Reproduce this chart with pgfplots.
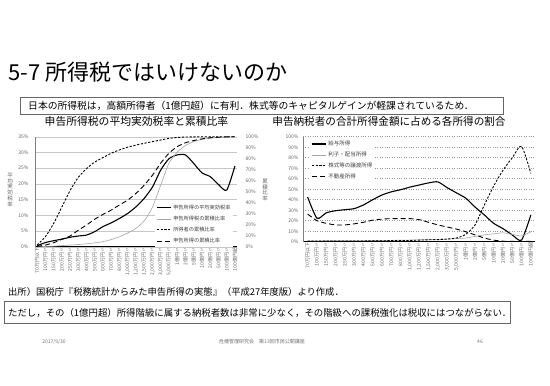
\documentclass[border=0pt]{standalone}
\usepackage{fontspec}
\setmainfont{Noto Sans CJK JP}
\usepackage{pgfplots}
\pgfplotsset{compat=1.18}

\pgfplotsset{
  base/.style={
    scale only axis,
    /pgf/number format/assume math mode=true,
    xtick={0,1,...,24},
    xticklabels={{70万円以下},{100万円〃},{150万円〃},{200万円〃},{250万円〃},{300万円〃},{400万円〃},{500万円〃},{600万円〃},{700万円〃},{800万円〃},{1,000万円〃},{1,200万円〃},{1,500万円〃},{2,000万円〃},{3,000万円〃},{5,000万円〃},{1億円〃},{2億円〃},{5億円〃},{10億円〃},{20億円〃},{50億円〃},{100億円〃},{100億円超}},
    x tick label style={rotate=90, anchor=east, font=\fontsize{5}{5.5}\selectfont, text=black!60, inner sep=1pt},
    y tick label style={font=\fontsize{5}{6}\selectfont, text=black!60},
    major tick length=0pt,
    yticklabel={\pgfmathprintnumber{\tick}\%},
    legend image code/.code={\draw[##1] (0pt,0pt) -- (14pt,0pt);},
  },
  sdash/.style={black, line width=0.9pt, dash pattern=on 2.2pt off 1.6pt},
  ldash/.style={black, line width=0.9pt, dash pattern=on 5pt off 3pt},
  thinl/.style={black!35, line width=0.6pt},
  solidl/.style={black, line width=1.1pt},
}

\begin{document}
\begin{tikzpicture}
\path[use as bounding box, fill=white] (0pt,0pt) rectangle (550pt,-386pt);

% Title
\node[anchor=west, inner sep=0pt, font=\fontsize{22}{24}\selectfont] at (8pt,-72pt) {5-7 所得税ではいけないのか};

% Box 1
\draw[black!60, line width=0.8pt] (20pt,-97.7pt) rectangle (503pt,-114pt);
\node[anchor=west, inner sep=0pt, font=\fontsize{9.8}{11}\selectfont] at (28pt,-106pt) {日本の所得税は，高額所得者（1億円超）に有利．株式等のキャピタルゲインが軽課されているため．};

% Subtitles
\node[inner sep=0pt, font=\fontsize{10.8}{12}\selectfont] at (136.5pt,-121pt) {申告所得税の平均実効税率と累積比率};
\node[inner sep=0pt, font=\fontsize{10.6}{12}\selectfont] at (389pt,-121pt) {申告納税者の合計所得金額に占める各所得の割合};

% Left chart, primary axis
\begin{axis}[base, at={(35pt,-246.7pt)}, anchor=south west, width=202pt, height=110pt,
  xmin=-0.25, xmax=24.25, ymin=0, ymax=35, ytick={0,5,...,35},
  axis x line*=bottom, axis y line*=left,
  x axis line style={-, line width=1.1pt, black},
  y axis line style={-, line width=0.4pt, black!50},
  ymajorgrids, grid style={black!22, line width=0.4pt},
  y tick label style={xshift=-3pt}]
\addplot[solidl, smooth, tension=0.4] coordinates {
(0,0.3) (1,1.3) (2,1.9) (3,2.4) (4,3.0) (5,3.4) (6,3.7) (7,4.8) (8,6.4) (9,7.6)
(10,9.0) (11,10.6) (12,12.7) (13,15.4) (14,19.0) (15,24.4) (16,28.0) (17,29.2)
(18,29.2) (19,26.5) (20,23.5) (21,22.3) (22,19.8) (23,18.0) (24,25.7)};
\end{axis}

% Left chart, secondary axis
\begin{axis}[base, at={(35pt,-246.7pt)}, anchor=south west, width=202pt, height=110pt,
  xmin=-0.25, xmax=24.25, ymin=0, ymax=100, ytick={0,10,...,100},
  axis x line=none, axis y line*=right, y axis line style={draw=none},
  y tick label style={xshift=5pt},
  legend cell align=left,
  legend style={font=\fontsize{5.2}{6}\selectfont, draw=none, fill=white, at={(0.594,0.41)}, anchor=north west, row sep=1.2pt, inner sep=1pt, text=black!75}]
\addlegendimage{solidl}
\addlegendentry{申告所得の平均実効税率}
\addplot[thinl, smooth, tension=0.4] coordinates {
(0,0) (1,0.2) (2,0.5) (3,1.0) (4,1.5) (5,2.0) (6,2.6) (7,3.5) (8,4.6) (9,6.5)
(10,9.0) (11,12.5) (12,16.7) (13,23.5) (14,36) (15,56) (16,76) (17,86) (18,92)
(19,95.5) (20,97.5) (21,98.7) (22,99.4) (23,99.7) (24,100)};
\addlegendentry{申告所得税の累積比率}
\addplot[sdash, smooth, tension=0.4] coordinates {
(0,1.5) (1,9) (2,21) (3,36) (4,51) (5,63) (6,71) (7,77) (8,81) (9,85) (10,88)
(11,90.5) (12,92.4) (13,94) (14,95.5) (15,97) (16,98.5) (17,99.3) (18,99.7)
(19,99.9) (20,99.95) (21,100) (22,100) (23,100) (24,100)};
\addlegendentry{所得者の累積比率}
\addplot[ldash, smooth, tension=0.4] coordinates {
(0,0.3) (1,1.5) (2,3.6) (3,6.7) (4,9.7) (5,15) (6,19.7) (7,25) (8,29.4) (9,33.3)
(10,38) (11,42.4) (12,48.5) (13,56) (14,65) (15,76) (16,85) (17,91) (18,94.5)
(19,96.5) (20,98) (21,99) (22,99.5) (23,99.8) (24,100)};
\addlegendentry{申告所得の累積比率}
\end{axis}

% Left chart vertical axis titles
\node[inner sep=0pt, align=center, font=\fontsize{5.5}{5.9}\selectfont, text=black!60] at (10pt,-190pt) {平\\均\\実\\効\\税\\率};
\node[inner sep=0pt, align=center, font=\fontsize{5.5}{5.9}\selectfont, text=black!60] at (265pt,-190pt) {累\\積\\比\\率};

% Right chart
\begin{axis}[base, at={(303pt,-241.7pt)}, anchor=south west, width=232.5pt, height=105pt,
  xmin=-0.5, xmax=24.5, ymin=0, ymax=100, ytick={0,10,...,100},
  axis x line*=bottom, axis y line*=left,
  x axis line style={-, line width=1.1pt, black},
  y axis line style={-, line width=0.4pt, black!50},
  ymajorgrids, grid style={black!40, dotted, line width=0.5pt},
  y tick label style={xshift=-1pt},
  legend cell align=left,
  legend style={font=\fontsize{5.5}{6}\selectfont, draw=none, fill=white, at={(0.03,0.99)}, anchor=north west, row sep=0.8pt, inner sep=1pt, text=black!75}]
\addplot[solidl, smooth, tension=0.4] coordinates {
(0,42.5) (1,22.3) (2,27.5) (3,29.5) (4,30.5) (5,31.5) (6,35) (7,40) (8,44.5) (9,47.5)
(10,49.5) (11,52) (12,54) (13,56) (14,57) (15,51.5) (16,46.5) (17,41.5) (18,33)
(19,25.5) (20,17.5) (21,12.5) (22,6.5) (23,1.5) (24,25.5)};
\addlegendentry{給与所得}
\addplot[thinl, smooth, tension=0.4] coordinates {
(0,0.8) (1,0.8) (2,0.9) (3,0.9) (4,1.0) (5,1.0) (6,1.0) (7,1.1) (8,1.2) (9,1.3)
(10,1.4) (11,1.5) (12,1.8) (13,2.0) (14,2.2) (15,2.5) (16,3.0) (17,3.5) (18,5.0)
(19,6.5) (20,7.5) (21,8.5) (22,7.0) (23,5.5) (24,9.5)};
\addlegendentry{利子・配当所得}
\addplot[sdash, smooth, tension=0.4] coordinates {
(0,0.5) (1,0.5) (2,0.5) (3,0.6) (4,0.6) (5,0.7) (6,0.7) (7,0.8) (8,0.9) (9,1.0)
(10,1.0) (11,1.2) (12,1.5) (13,1.8) (14,2.0) (15,2.5) (16,3.5) (17,7) (18,16)
(19,35) (20,53) (21,68) (22,80) (23,91) (24,65)};
\addlegendentry{株式等の譲渡所得}
\addplot[ldash, smooth, tension=0.4] coordinates {
(0,26.3) (1,20) (2,17.5) (3,16) (4,16) (5,17) (6,18.5) (7,20.5) (8,21.5) (9,22)
(10,22) (11,22) (12,21) (13,18.5) (14,16) (15,14) (16,12) (17,9.5) (18,6.5)
(19,3.5) (20,1.5) (21,0.5) (22,0.3) (23,0.2) (24,0.3)};
\addlegendentry{不動産所得}
\end{axis}

% Source
\node[anchor=west, inner sep=0pt, font=\fontsize{9.3}{11}\selectfont] at (8pt,-291.7pt) {出所）国税庁『税務統計からみた申告所得の実態』（平成27年度版）より作成．};

% Box 2
\draw[black!60, line width=0.8pt] (4pt,-301.7pt) rectangle (510pt,-323.3pt);
\node[anchor=west, inner sep=0pt, font=\fontsize{9.4}{11}\selectfont] at (8pt,-312.5pt) {ただし，その（1億円超）所得階級に属する納税者数は非常に少なく，その階級への課税強化は税収にはつながらない．};

% Footer
\node[inner sep=0pt, font=\fontsize{5}{6}\selectfont, text=black!55] at (54pt,-341.7pt) {2017/9/30};
\node[inner sep=0pt, font=\fontsize{5}{6}\selectfont, text=black!55] at (262pt,-341.7pt) {危機管理研究会　第13回市民公開講座};
\node[inner sep=0pt, font=\fontsize{5}{6}\selectfont, text=black!55] at (480pt,-341.7pt) {46};
\end{tikzpicture}
\end{document}
